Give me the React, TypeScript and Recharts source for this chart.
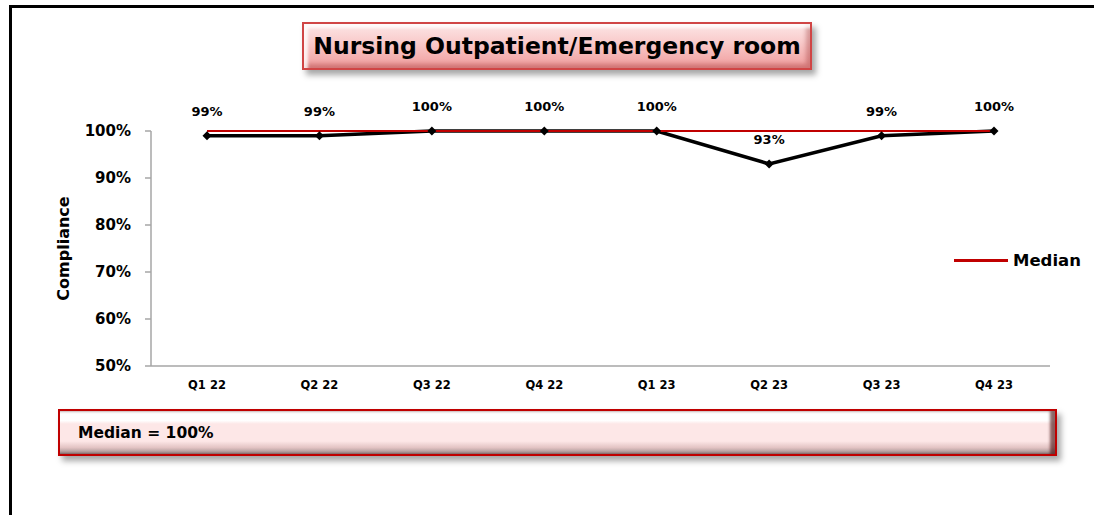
import { LineChart, Line, XAxis, YAxis, LabelList } from 'recharts'

const quarters = ['Q1 22', 'Q2 22', 'Q3 22', 'Q4 22', 'Q1 23', 'Q2 23', 'Q3 23', 'Q4 23']
const compliance = [99, 99, 100, 100, 100, 93, 99, 100]
const median = [100, 100, 100, 100, 100, 100, 100, 100]
const yTicks = [50, 60, 70, 80, 90, 100]

const data = quarters.map((q, i) => ({ quarter: q, compliance: compliance[i], median: median[i] }))

const font = '"DejaVu Sans", Verdana, sans-serif'

function Diamond(props: any) {
  const { cx, cy } = props
  if (cx == null || cy == null) return null
  return <path d={`M${cx},${cy - 4.5}L${cx + 4.5},${cy}L${cx},${cy + 4.5}L${cx - 4.5},${cy}Z`} fill="#000" />
}

export default function App() {
  return (
    <div style={{ position: 'absolute', left: 0, top: 0, width: 1094, height: 515, background: '#fff', overflow: 'hidden' }}>
      <div
        style={{
          position: 'absolute',
          left: 9,
          top: 5,
          width: 1100,
          height: 520,
          borderLeft: '3px solid #000',
          borderTop: '3px solid #000',
        }}
      />
      <div style={{ position: 'absolute', left: 0, top: 0 }}>
        <LineChart width={1094} height={515} data={data} margin={{ top: 131, right: 44, bottom: 129, left: 81 }}>
          <XAxis
            dataKey="quarter"
            padding={{ left: 56, right: 56 }}
            axisLine={{ stroke: '#a6a6a6', strokeWidth: 1.5 }}
            tickLine={false}
            tickSize={0}
            tickMargin={15}
            height={20}
            tick={{ fill: '#000', fontFamily: font, fontWeight: 700, fontSize: 11.5 }}
          />
          <YAxis
            domain={[50, 100]}
            ticks={yTicks}
            width={70}
            tickFormatter={(v) => `${v}%`}
            axisLine={{ stroke: '#a6a6a6', strokeWidth: 1.5 }}
            tickLine={{ stroke: '#a6a6a6', strokeWidth: 1.5 }}
            tickSize={6}
            tickMargin={14}
            tick={{ fill: '#000', fontFamily: font, fontWeight: 700, fontSize: 15 }}
            label={(props: any) => {
              const vb = props.viewBox
              const x = vb.x - 18
              const y = vb.y + vb.height / 2
              return (
                <text
                  x={x}
                  y={y}
                  transform={`rotate(-90, ${x}, ${y})`}
                  textAnchor="middle"
                  dominantBaseline="central"
                  fontFamily={font}
                  fontWeight={700}
                  fontSize={16}
                  fill="#000"
                >
                  Compliance
                </text>
              )
            }}
          />
          <Line
            dataKey="compliance"
            stroke="#000"
            strokeWidth={3.5}
            dot={<Diamond />}
            activeDot={false}
            isAnimationActive={false}
          >
            <LabelList
              dataKey="compliance"
              position="top"
              offset={20}
              formatter={(v: any) => `${v}%`}
              style={{ fill: '#000', fontFamily: font, fontWeight: 700, fontSize: 13 }}
            />
          </Line>
          <Line
            dataKey="median"
            stroke="#c00000"
            strokeWidth={2}
            dot={false}
            activeDot={false}
            isAnimationActive={false}
          />
        </LineChart>
      </div>
      <div
        style={{
          position: 'absolute',
          left: 954,
          top: 251,
          display: 'flex',
          alignItems: 'center',
          fontFamily: font,
          fontWeight: 700,
          fontSize: 16.5,
          color: '#000',
        }}
      >
        <span style={{ display: 'inline-block', width: 54, height: 3.5, background: '#c00000', marginRight: 5 }} />
        <span>Median</span>
      </div>
      <div
        style={{
          position: 'absolute',
          left: 302,
          top: 22,
          width: 510,
          height: 48,
          boxSizing: 'border-box',
          border: '2px solid #d04545',
          background: 'linear-gradient(#fce6e6 0%, #f9cccc 40%, #f09c9c 100%)',
          boxShadow: 'inset 4px 4px 3px rgba(255,255,255,0.8), inset -4px -4px 4px rgba(150,40,40,0.35), 4px 5px 6px rgba(0,0,0,0.35)',
          display: 'flex',
          alignItems: 'center',
          justifyContent: 'center',
          fontFamily: font,
          fontWeight: 700,
          fontSize: 23.5,
          color: '#000',
          whiteSpace: 'nowrap',
        }}
      >
        Nursing Outpatient/Emergency room
      </div>
      <div
        style={{
          position: 'absolute',
          left: 58,
          top: 409,
          width: 999,
          height: 47,
          boxSizing: 'border-box',
          border: '2px solid #c00000',
          background: 'linear-gradient(#ffffff 0%, #ffffff 22%, #fde7e7 30%, #fde7e7 70%, #e3c4c4 85%, #9a8a8a 100%)',
          boxShadow: 'inset -5px 0 3px rgba(60,0,0,0.6), 4px 5px 6px rgba(0,0,0,0.35)',
          display: 'flex',
          alignItems: 'center',
          paddingLeft: 18,
          fontFamily: font,
          fontWeight: 700,
          fontSize: 15.5,
          color: '#000',
        }}
      >
        Median = 100%
      </div>
    </div>
  )
}
